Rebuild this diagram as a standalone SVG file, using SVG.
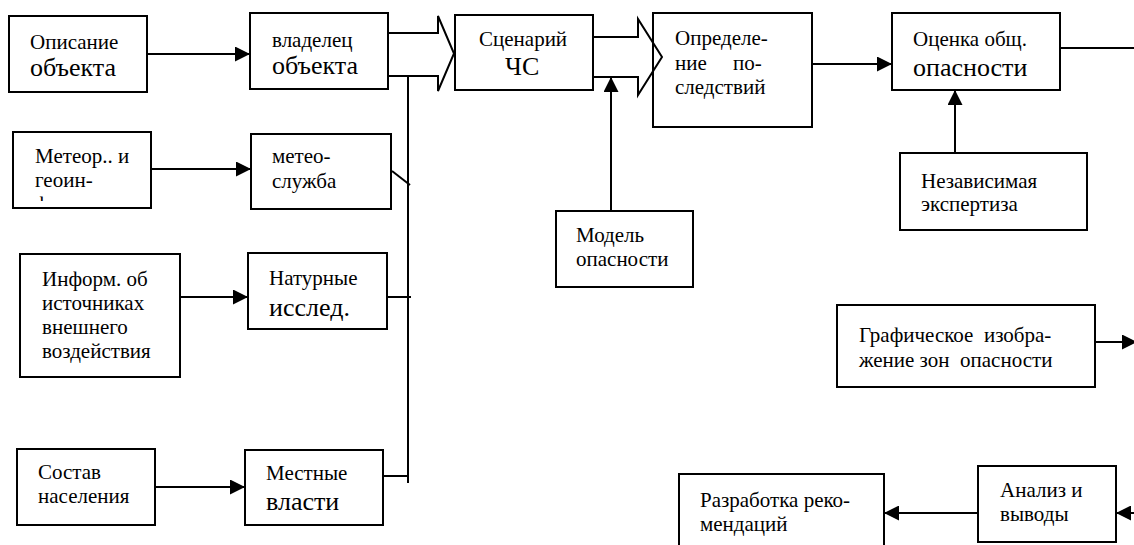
<svg xmlns="http://www.w3.org/2000/svg" width="1134" height="545" viewBox="0 0 1134 545">
  <style>
    .box { fill: none; stroke: #000; stroke-width: 2; }
    .ln { fill: none; stroke: #000; stroke-width: 2; }
    .blk { fill: none; stroke: #000; stroke-width: 2; stroke-linejoin: miter; }
    .s { font-size: 21px; }
    .b { font-size: 26px; }
  </style>
  <defs>
    <marker id="ah" viewBox="0 0 15 15" refX="15" refY="7.5" markerWidth="15" markerHeight="15" orient="auto" markerUnits="userSpaceOnUse">
      <path d="M0,0 L15,7.5 L0,15 z" fill="#000"/>
    </marker>
    <clipPath id="meteorClip">
      <rect x="13" y="132" width="138" height="69"/>
    </clipPath>
  </defs>
  <rect width="1134" height="545" fill="#fff"/>

  <g font-family="'Liberation Serif', 'DejaVu Serif', serif" fill="#000">
  <g id="opisanie">
    <rect class="box" x="9" y="16" width="138" height="76"/>
    <text class="s" x="30" y="49">Описание</text>
    <text class="b" x="30" y="76">объекта</text>
  </g>
  <g id="vladelec">
    <rect class="box" x="250" y="13" width="138" height="76"/>
    <text class="s" x="272" y="47">владелец</text>
    <text class="b" x="272" y="74">объекта</text>
  </g>
  <g id="scenariy">
    <rect class="box" x="455" y="15" width="138" height="75"/>
    <text class="s" x="479" y="46">Сценарий</text>
    <text class="b" x="505" y="75">ЧС</text>
  </g>
  <g id="opredelenie">
    <rect class="box" x="653" y="13" width="159" height="114"/>
    <text class="s" x="675" y="45">Определе-</text>
    <text class="s" x="675" y="70">ние</text>
    <text class="s" x="733" y="70">по-</text>
    <text class="s" x="675" y="94">следствий</text>
  </g>
  <g id="ocenka">
    <rect class="box" x="892" y="13" width="168" height="77"/>
    <text class="s" x="913" y="46">Оценка общ.</text>
    <text class="b" x="913" y="76">опасности</text>
  </g>
  <g id="nezavisimaya">
    <rect class="box" x="900" y="153" width="187" height="77"/>
    <text class="s" x="921" y="188">Независимая</text>
    <text class="s" x="921" y="211">экспертиза</text>
  </g>
  <g id="meteor">
    <rect class="box" x="13" y="132" width="138" height="76"/>
    <text class="s" x="35" y="163">Метеор.. и</text>
    <text class="s" x="35" y="187">геоин-</text>
    <text class="s" x="35" y="211" clip-path="url(#meteorClip)">формация</text>
  </g>
  <g id="meteosluzhba">
    <rect class="box" x="251" y="134" width="140" height="75"/>
    <text class="s" x="272" y="163">метео-</text>
    <text class="s" x="272" y="188">служба</text>
  </g>
  <g id="inform">
    <rect class="box" x="20" y="254" width="160" height="123"/>
    <text class="s" x="42" y="286">Информ. об</text>
    <text class="s" x="42" y="310">источниках</text>
    <text class="s" x="42" y="334">внешнего</text>
    <text class="s" x="42" y="358">воздействия</text>
  </g>
  <g id="naturnye">
    <rect class="box" x="248" y="253" width="139" height="76"/>
    <text class="s" x="269" y="285">Натурные</text>
    <text class="b" x="269" y="316">исслед.</text>
  </g>
  <g id="sostav">
    <rect class="box" x="17" y="449" width="138" height="76"/>
    <text class="s" x="38" y="479">Состав</text>
    <text class="s" x="38" y="503">населения</text>
  </g>
  <g id="mestnye">
    <rect class="box" x="245" y="450" width="138" height="75"/>
    <text class="s" x="266" y="480">Местные</text>
    <text class="b" x="266" y="510">власти</text>
  </g>
  <g id="model">
    <rect class="box" x="556" y="211" width="137" height="76"/>
    <text class="s" x="576" y="242">Модель</text>
    <text class="s" x="576" y="266">опасности</text>
  </g>
  <g id="graficheskoe">
    <rect class="box" x="837" y="305" width="258" height="82"/>
    <text class="s" x="859" y="342" xml:space="preserve">Графическое  изобра-</text>
    <text class="s" x="859" y="367" xml:space="preserve">жение зон  опасности</text>
  </g>
  <g id="analiz">
    <rect class="box" x="978" y="466" width="138" height="76"/>
    <text class="s" x="1000" y="497">Анализ и</text>
    <text class="s" x="1000" y="521">выводы</text>
  </g>
  <g id="razrabotka">
    <rect class="box" x="679" y="474" width="205" height="80"/>
    <text class="s" x="700" y="507">Разработка реко-</text>
    <text class="s" x="700" y="531">мендаций</text>
  </g>
  </g>

  <g id="connectors">
    <!-- input arrows into the data-source column -->
    <line class="ln" x1="147" y1="54" x2="250" y2="54" marker-end="url(#ah)"/>
    <line class="ln" x1="151" y1="169" x2="251" y2="169" marker-end="url(#ah)"/>
    <line class="ln" x1="180" y1="297" x2="248" y2="297" marker-end="url(#ah)"/>
    <line class="ln" x1="155" y1="487" x2="245" y2="487" marker-end="url(#ah)"/>
    <!-- wide block arrows -->
    <path class="blk" d="M388,33 H438 V16 L454,53.5 L438,91 V76 H388"/>
    <path class="blk" d="M593,37 H638 V19 L662,57 L638,95 V77 H593"/>
    <!-- collecting bus -->
    <line class="ln" x1="408" y1="76" x2="408" y2="483"/>
    <line class="ln" x1="392" y1="171" x2="410" y2="185"/>
    <line class="ln" x1="387" y1="297" x2="411" y2="297"/>
    <line class="ln" x1="383" y1="476" x2="408" y2="476"/>
    <!-- model and assessment chain -->
    <line class="ln" x1="611" y1="211" x2="611" y2="77" marker-end="url(#ah)"/>
    <line class="ln" x1="812" y1="64" x2="892" y2="64" marker-end="url(#ah)"/>
    <line class="ln" x1="1060" y1="48" x2="1134" y2="48"/>
    <line class="ln" x1="955" y1="153" x2="955" y2="90" marker-end="url(#ah)"/>
    <line class="ln" x1="1095" y1="342" x2="1137" y2="342" marker-end="url(#ah)"/>
    <line class="ln" x1="1145" y1="513" x2="1116" y2="513" marker-end="url(#ah)"/>
    <line class="ln" x1="978" y1="513" x2="884" y2="513" marker-end="url(#ah)"/>
  </g>
</svg>
